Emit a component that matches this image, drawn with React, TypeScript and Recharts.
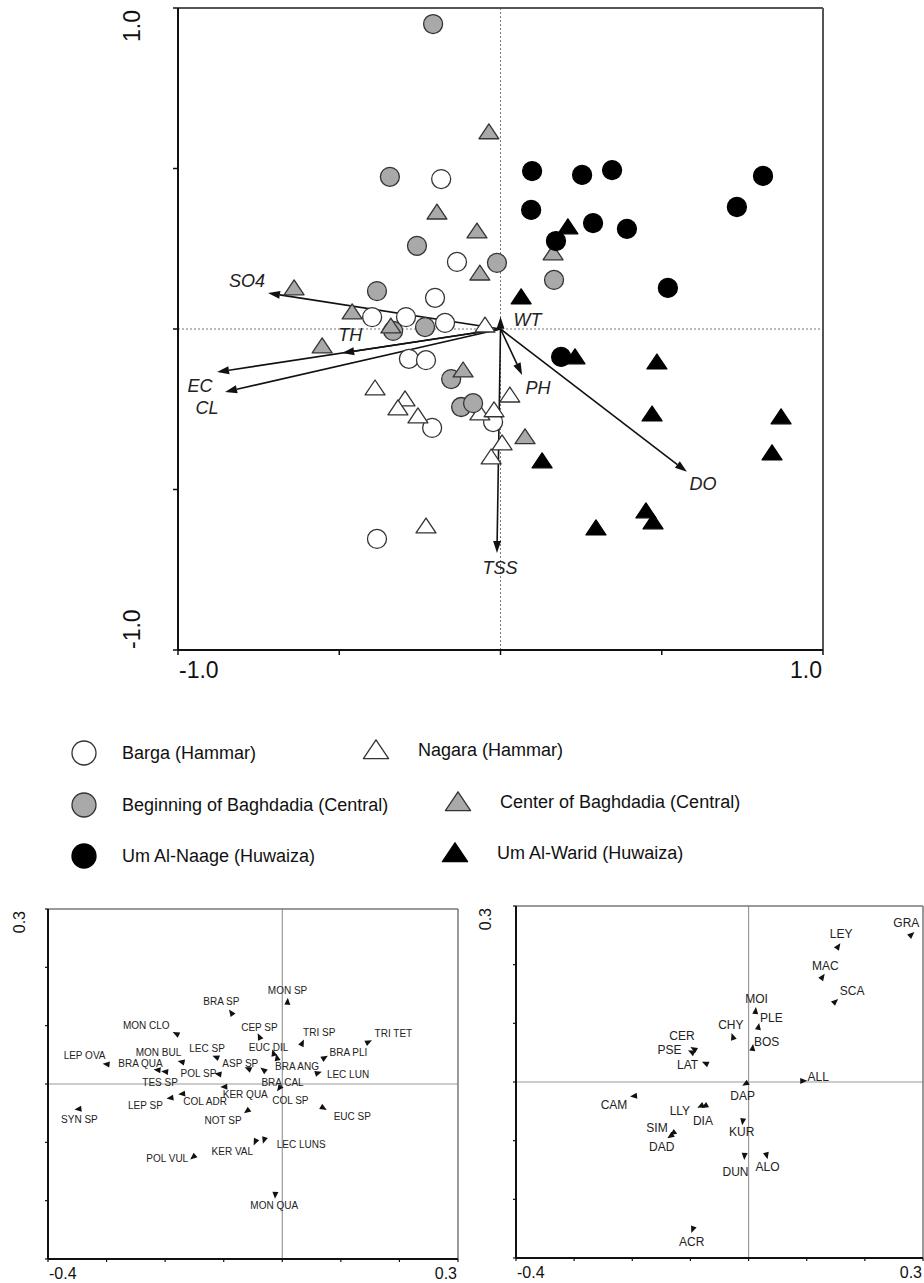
import React from "react";
import { ScatterChart, Scatter, XAxis, YAxis, ReferenceLine, Legend } from "recharts";

const FONT = '"Liberation Sans", Arial, Helvetica, sans-serif';

// site scores on axis 1 / axis 2 (top biplot)
const bargaHammar = [
  { x: -0.184, y: 0.467 }, { x: -0.135, y: 0.209 }, { x: -0.203, y: 0.097 },
  { x: -0.398, y: 0.037 }, { x: -0.293, y: 0.037 }, { x: -0.172, y: 0.019 },
  { x: -0.284, y: -0.093 }, { x: -0.231, y: -0.097 }, { x: -0.212, y: -0.308 },
  { x: -0.023, y: -0.29 }, { x: -0.383, y: -0.654 },
];
const nagaraHammar = [
  { x: -0.048, y: 0.012 }, { x: -0.389, y: -0.184 }, { x: -0.296, y: -0.218 },
  { x: -0.318, y: -0.246 }, { x: -0.256, y: -0.271 }, { x: -0.064, y: -0.262 },
  { x: -0.02, y: -0.252 }, { x: 0.029, y: -0.206 }, { x: 0.005, y: -0.355 },
  { x: -0.029, y: -0.399 }, { x: -0.231, y: -0.614 },
];
const beginningBaghdadia = [
  { x: -0.209, y: 0.95 }, { x: -0.343, y: 0.474 }, { x: -0.259, y: 0.259 },
  { x: -0.011, y: 0.206 }, { x: -0.383, y: 0.118 }, { x: 0.166, y: 0.153 },
  { x: -0.234, y: 0.006 }, { x: -0.333, y: -0.006 }, { x: -0.153, y: -0.156 },
  { x: -0.122, y: -0.243 }, { x: -0.085, y: -0.231 },
];
const centerBaghdadia = [
  { x: -0.036, y: 0.614 }, { x: -0.197, y: 0.364 }, { x: -0.073, y: 0.305 },
  { x: -0.064, y: 0.174 }, { x: 0.163, y: 0.237 }, { x: -0.64, y: 0.128 },
  { x: -0.46, y: 0.053 }, { x: -0.34, y: 0.009 }, { x: -0.553, y: -0.053 },
  { x: -0.116, y: -0.128 }, { x: 0.076, y: -0.336 },
];
const umAlNaage = [
  { x: 0.098, y: 0.492 }, { x: 0.253, y: 0.48 }, { x: 0.346, y: 0.495 },
  { x: 0.814, y: 0.477 }, { x: 0.095, y: 0.371 }, { x: 0.733, y: 0.38 },
  { x: 0.287, y: 0.33 }, { x: 0.392, y: 0.312 }, { x: 0.172, y: 0.274 },
  { x: 0.519, y: 0.128 }, { x: 0.188, y: -0.087 },
];
const umAlWarid = [
  { x: 0.209, y: 0.318 }, { x: 0.064, y: 0.1 }, { x: 0.231, y: -0.087 },
  { x: 0.485, y: -0.103 }, { x: 0.47, y: -0.265 }, { x: 0.87, y: -0.274 },
  { x: 0.129, y: -0.411 }, { x: 0.842, y: -0.386 }, { x: 0.451, y: -0.567 },
  { x: 0.473, y: -0.601 }, { x: 0.296, y: -0.62 },
];

// environmental variable arrows
const envNames = ["SO4", "WT", "TH", "EC", "CL", "TSS", "PH", "DO"];
const envAxis1 = [-0.721, 0.0, -0.491, -0.879, -0.854, -0.011, 0.067, 0.578];
const envAxis2 = [0.112, 0.038, -0.075, -0.134, -0.196, -0.698, -0.143, -0.445];

// species scores, lower left panel
const leftNames = [
  "LEP OVA", "MON CLO", "BRA SP", "MON SP", "CEP SP", "TRI SP", "TRI TET", "MON BUL",
  "BRA QUA", "TES SP", "LEC SP", "EUC DIL", "BRA ANG", "ASP SP", "BRA CAL", "LEC LUN",
  "BRA PLI", "POL SP", "KER QUA", "COL SP", "LEP SP", "COL ADR", "SYN SP", "NOT SP",
  "EUC SP", "KER VAL", "LEC LUNS", "POL VUL", "MON QUA",
];
const leftAxis1 = [
  -0.3, -0.181, -0.087, 0.009, -0.039, 0.034, 0.147, -0.172,
  -0.213, -0.2, -0.113, -0.015, -0.009, -0.058, -0.032, 0.061,
  0.072, -0.109, -0.099, -0.005, -0.191, -0.171, -0.348, -0.06,
  0.07, -0.046, -0.031, -0.152, -0.012,
];
const leftAxis2 = [
  0.034, 0.086, 0.122, 0.141, 0.081, 0.07, 0.072, 0.038,
  0.024, 0.021, 0.046, 0.053, 0.045, 0.026, 0.024, 0.019,
  0.045, 0.017, -0.005, -0.007, -0.024, -0.017, -0.043, -0.046,
  -0.041, -0.099, -0.096, -0.125, -0.19,
];

// species scores, lower right panel
const rightNames = [
  "GRA", "LEY", "MAC", "SCA", "MOI", "PLE", "CHY", "BOS", "CER", "PSE", "LAT",
  "ALL", "DAP", "CAM", "LLY", "DIA", "SIM", "DAD", "KUR", "DUN", "ALO", "ACR",
];
const rightAxis1 = [
  0.28, 0.154, 0.127, 0.149, 0.012, 0.017, -0.027, 0.007, -0.094, -0.098, -0.074,
  0.094, -0.005, -0.197, -0.082, -0.075, -0.13, -0.134, -0.01, -0.007, 0.031, -0.096,
];
const rightAxis2 = [
  0.251, 0.231, 0.179, 0.137, 0.121, 0.094, 0.077, 0.058, 0.056, 0.051, 0.032,
  0.002, -0.003, -0.024, -0.041, -0.041, -0.087, -0.092, -0.067, -0.126, -0.125, -0.251,
];

// label placement (pixels from the point)
const envLabelOffset: Record<string, [number, number]> = {
  SO4: [-21, -12], WT: [27, 3], TH: [8, -18], EC: [-17, 14],
  CL: [-18, 16], TSS: [3, 15], PH: [16, 13], DO: [16, 12],
};
const leftLabelOffset: Record<string, [number, number]> = {
  "LEP OVA": [-22, -9], "MON CLO": [-30, -8], "BRA SP": [-10, -11], "MON SP": [0, -11],
  "CEP SP": [0, -9], "TRI SP": [17, -11], "TRI TET": [25, -9], "MON BUL": [-23, -9],
  "BRA QUA": [-17, -7], "TES SP": [-5, 11], "LEC SP": [-9, -9], "EUC DIL": [-5, -6],
  "BRA ANG": [20, 9], "ASP SP": [-8, -5], "BRA CAL": [19, 12], "LEC LUN": [30, 2],
  "BRA PLI": [24, -5], "POL SP": [-20, -1], "KER QUA": [21, 8], "COL SP": [11, 12],
  "LEP SP": [-25, 7], "COL ADR": [23, 8], "SYN SP": [1, 10], "NOT SP": [-24, 10],
  "EUC SP": [29, 9], "KER VAL": [-23, 10], "LEC LUNS": [37, 4], "POL VUL": [-26, 2],
  "MON QUA": [-1, 11],
};
const rightLabelOffset: Record<string, [number, number]> = {
  GRA: [-5, -12], LEY: [3, -12], MAC: [3, -11], SCA: [17, -11], MOI: [1, -12],
  PLE: [13, -9], CHY: [-2, -12], BOS: [14, -6], CER: [-12, -13], PSE: [-22, -2],
  LAT: [-18, 2], ALL: [15, -4], DAP: [-3, 12], CAM: [-20, 9], LLY: [-21, 5],
  DIA: [-2, 15], SIM: [-16, -5], DAD: [-9, 11], KUR: [-1, 11], DUN: [-9, 16],
  ALO: [1, 12], ACR: [-1, 13],
};

const siteSeries = [
  { name: "Barga (Hammar)", data: bargaHammar, kind: "circle", fill: "#ffffff" },
  { name: "Nagara (Hammar)", data: nagaraHammar, kind: "triangle", fill: "#ffffff" },
  { name: "Beginning of Baghdadia (Central)", data: beginningBaghdadia, kind: "circle", fill: "#a9a9a9" },
  { name: "Center of Baghdadia (Central)", data: centerBaghdadia, kind: "triangle", fill: "#a9a9a9" },
  { name: "Um Al-Naage (Huwaiza)", data: umAlNaage, kind: "circle", fill: "#000000" },
  { name: "Um Al-Warid (Huwaiza)", data: umAlWarid, kind: "triangle", fill: "#000000" },
];

const legendPos: Record<string, { ix: number; iy: number; tx: number }> = {
  "Barga (Hammar)": { ix: 84, iy: 53, tx: 122 },
  "Nagara (Hammar)": { ix: 376, iy: 50, tx: 418 },
  "Beginning of Baghdadia (Central)": { ix: 84, iy: 105, tx: 122 },
  "Center of Baghdadia (Central)": { ix: 458, iy: 102, tx: 500 },
  "Um Al-Naage (Huwaiza)": { ix: 84, iy: 156, tx: 122 },
  "Um Al-Warid (Huwaiza)": { ix: 455, iy: 153, tx: 497 },
};

function marker(kind: string, cx: number, cy: number, fill: string, r: number) {
  const stroke = fill === "#000000" ? "#000" : "#333";
  if (kind === "circle") {
    return <circle cx={cx} cy={cy} r={r} fill={fill} stroke={stroke} strokeWidth={1.3} />;
  }
  const h = r * 0.85;
  const w = r * 1.05;
  return (
    <polygon
      points={`${cx},${cy - h} ${cx - w},${cy + h * 0.85} ${cx + w},${cy + h * 0.85}`}
      fill={fill}
      stroke={stroke}
      strokeWidth={1.3}
      strokeLinejoin="round"
    />
  );
}

function arrowShape(name: string) {
  return (p: any) => {
    const { x1, y1, x2, y2 } = p;
    const ang = Math.atan2(y2 - y1, x2 - x1);
    const L = 12;
    const W = 4;
    const bx = x2 - L * Math.cos(ang);
    const by = y2 - L * Math.sin(ang);
    const px = -Math.sin(ang) * W;
    const py = Math.cos(ang) * W;
    const off = envLabelOffset[name] || [0, 0];
    return (
      <g>
        <line x1={x1} y1={y1} x2={bx} y2={by} stroke="#111" strokeWidth={1.6} />
        <polygon points={`${x2},${y2} ${bx + px},${by + py} ${bx - px},${by - py}`} fill="#111" />
        <text
          x={x2 + off[0]}
          y={y2 + off[1]}
          textAnchor="middle"
          dominantBaseline="central"
          fontStyle="italic"
          fontSize={18}
          fontFamily={FONT}
          fill="#222"
        >
          {name}
        </text>
      </g>
    );
  };
}

function speciesShape(offsets: Record<string, [number, number]>, fontSize: number) {
  return (p: any) => {
    const { cx, cy, payload } = p;
    const a = Math.atan2(-payload.y, payload.x);
    const c = Math.cos(a);
    const s = Math.sin(a);
    const tip = [cx + 4 * c, cy + 4 * s];
    const b1 = [cx - 3 * c - 3 * s, cy - 3 * s + 3 * c];
    const b2 = [cx - 3 * c + 3 * s, cy - 3 * s - 3 * c];
    const off = offsets[payload.name] || [0, -10];
    return (
      <g>
        <polygon points={`${tip[0]},${tip[1]} ${b1[0]},${b1[1]} ${b2[0]},${b2[1]}`} fill="#111" />
        <text
          x={cx + off[0]}
          y={cy + off[1]}
          textAnchor="middle"
          dominantBaseline="central"
          fontSize={fontSize}
          fontFamily={FONT}
          fill="#222"
        >
          {payload.name}
        </text>
      </g>
    );
  };
}

const LegendBox = (props: any) => {
  const names: string[] =
    props.payload && props.payload.length ? props.payload.map((e: any) => e.value) : siteSeries.map((s) => s.name);
  return (
    <svg width={924} height={180}>
      {names.map((n) => {
        const s = siteSeries.find((d) => d.name === n);
        const pos = legendPos[n];
        if (!s || !pos) return null;
        return (
          <g key={n}>
            {marker(s.kind, pos.ix, pos.iy, s.fill, 12)}
            <text x={pos.tx} y={pos.iy} dominantBaseline="central" fontSize={18} fontFamily={FONT} fill="#111">
              {n}
            </text>
          </g>
        );
      })}
    </svg>
  );
};

function endTickX(fontSize: number, dy: number, lo: number, hi: number) {
  return (p: any) => {
    const v = p.payload.value;
    if (v !== lo && v !== hi) return <g />;
    return (
      <text
        x={p.x + (v === lo ? 1 : -1)}
        y={p.y + dy}
        textAnchor={v === lo ? "start" : "end"}
        fontSize={fontSize}
        fontFamily={FONT}
        fill="#111"
      >
        {v.toFixed(1)}
      </text>
    );
  };
}

function endTickY(fontSize: number, dx: number, lo: number, hi: number) {
  return (p: any) => {
    const v = p.payload.value;
    if (v !== lo && v !== hi) return <g />;
    const tx = p.x + dx;
    const ty = p.y + (v === hi ? 2 : -1);
    return (
      <text
        x={tx}
        y={ty}
        transform={`rotate(-90 ${tx} ${ty})`}
        textAnchor={v === hi ? "end" : "start"}
        dominantBaseline="central"
        fontSize={fontSize}
        fontFamily={FONT}
        fill="#111"
      >
        {v.toFixed(1)}
      </text>
    );
  };
}

const leftSpecies = leftNames.map((name, i) => ({ name, x: leftAxis1[i], y: leftAxis2[i] }));
const rightSpecies = rightNames.map((name, i) => ({ name, x: rightAxis1[i], y: rightAxis2[i] }));

const speciesTicksX = [-0.4, -0.3, -0.2, -0.1, 0, 0.1, 0.2, 0.3];
const speciesTicksY = [-0.3, -0.2, -0.1, 0, 0.1, 0.2, 0.3];

function SpeciesPanel(props: {
  data: { name: string; x: number; y: number }[];
  width: number;
  margin: { top: number; right: number; bottom: number; left: number };
  offsets: Record<string, [number, number]>;
  fontSize: number;
  labelDx: number;
}) {
  const { data, width, margin, offsets, fontSize, labelDx } = props;
  return (
    <ScatterChart width={width} height={403} margin={margin}>
      <XAxis
        type="number"
        dataKey="x"
        domain={[-0.4, 0.3]}
        ticks={speciesTicksX}
        interval={0}
        height={24}
        tickSize={3}
        tickMargin={0}
        axisLine={{ stroke: "#111", strokeWidth: 2 }}
        tickLine={{ stroke: "#111", strokeWidth: 1.2 }}
        tick={endTickX(16, 17, -0.4, 0.3)}
      />
      <YAxis
        type="number"
        dataKey="y"
        domain={[-0.3, 0.3]}
        ticks={speciesTicksY}
        interval={0}
        width={30}
        tickSize={3}
        tickMargin={0}
        axisLine={{ stroke: "#111", strokeWidth: 2 }}
        tickLine={{ stroke: "#111", strokeWidth: 1.2 }}
        tick={endTickY(16, labelDx, -99, 0.3)}
      />
      <ReferenceLine x={0} stroke="#999" strokeWidth={1.2} />
      <ReferenceLine y={0} stroke="#999" strokeWidth={1.2} />
      <ReferenceLine x={0.3} stroke="#777" strokeWidth={1.5} />
      <ReferenceLine y={0.3} stroke="#777" strokeWidth={1.5} />
      <Scatter data={data} isAnimationActive={false} shape={speciesShape(offsets, fontSize)} />
    </ScatterChart>
  );
}

export default function App() {
  return (
    <div
      style={{
        position: "absolute",
        left: 0,
        top: 0,
        width: 924,
        height: 1283,
        overflow: "hidden",
        background: "#fff",
        fontFamily: FONT,
      }}
    >
      <div style={{ position: "absolute", left: 0, top: 0 }}>
        <ScatterChart width={924} height={890} margin={{ top: 8, right: 101, bottom: 200, left: 138 }}>
          <XAxis
            type="number"
            dataKey="x"
            domain={[-1, 1]}
            ticks={[-1, -0.5, 0, 0.5, 1]}
            interval={0}
            height={40}
            tickSize={5}
            tickMargin={0}
            axisLine={{ stroke: "#111", strokeWidth: 2 }}
            tickLine={{ stroke: "#111", strokeWidth: 1.5 }}
            tick={endTickX(23, 23, -1, 1)}
          />
          <YAxis
            type="number"
            dataKey="y"
            domain={[-1, 1]}
            ticks={[-1, -0.5, 0, 0.5, 1]}
            interval={0}
            width={40}
            tickSize={5}
            tickMargin={0}
            axisLine={{ stroke: "#111", strokeWidth: 2 }}
            tickLine={{ stroke: "#111", strokeWidth: 1.5 }}
            tick={endTickY(23, -41, -1, 1)}
          />
          <ReferenceLine x={0} stroke="#777" strokeWidth={1} strokeDasharray="2 2" />
          <ReferenceLine y={0} stroke="#777" strokeWidth={1} strokeDasharray="2 2" />
          <ReferenceLine x={1} stroke="#555" strokeWidth={2} />
          <ReferenceLine y={1} stroke="#555" strokeWidth={2} />
          {siteSeries.map((s) => (
            <Scatter
              key={s.name}
              name={s.name}
              data={s.data}
              isAnimationActive={false}
              fill={s.fill}
              shape={(p: any) => marker(s.kind, p.cx, p.cy, s.fill, 9.5)}
            />
          ))}
          {envNames.map((n, i) => (
            <ReferenceLine
              key={n}
              segment={[
                { x: 0, y: 0 },
                { x: envAxis1[i], y: envAxis2[i] },
              ]}
              stroke="#111"
              shape={arrowShape(n)}
            />
          ))}
          <Legend
            layout="vertical"
            align="center"
            verticalAlign="middle"
            content={LegendBox}
            wrapperStyle={{ position: "absolute", left: 0, top: 700, width: 924, height: 180, margin: 0 }}
          />
        </ScatterChart>
      </div>
      <div style={{ position: "absolute", left: 0, top: 880 }}>
        <SpeciesPanel
          data={leftSpecies}
          width={470}
          margin={{ top: 29, right: 12, bottom: 0, left: 18 }}
          offsets={leftLabelOffset}
          fontSize={10}
          labelDx={-26}
        />
      </div>
      <div style={{ position: "absolute", left: 466, top: 880 }}>
        <SpeciesPanel
          data={rightSpecies}
          width={458}
          margin={{ top: 26, right: 1, bottom: 1, left: 20 }}
          offsets={rightLabelOffset}
          fontSize={12}
          labelDx={-28}
        />
      </div>
    </div>
  );
}
